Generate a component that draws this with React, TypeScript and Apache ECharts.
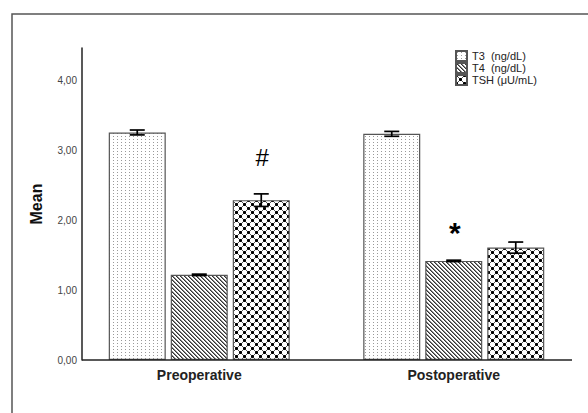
import React, { useEffect, useRef } from "react";
import * as echarts from "echarts";

// ---- data ----
const categories = ["Preoperative", "Postoperative"];
const seriesNames = ["T3  (ng/dL)", "T4  (ng/dL)", "TSH (μU/mL)"];
const t3Mean = [3.26, 3.24];
const t4Mean = [1.22, 1.42];
const tshMean = [2.29, 1.61];
const t3Err = [0.035, 0.035];
const t4Err = [0.01, 0.01];
const tshErr = [0.09, 0.08];
const t3Marks = ["", ""];
const t4Marks = ["", "*"];
const tshMarks = ["#", ""];
const yTickValues = [0, 1, 2, 3, 4];

// ---- layout / style constants ----
const BAR_W = 57;
const BAR_GAP = 5;
const CAP_W = 15;
const MARK_LIFT: Record<string, number> = { "#": 36, "*": 28 };
const FONT = "'Liberation Sans', Arial, sans-serif";

function makePattern(w: number, h: number, draw: (ctx: CanvasRenderingContext2D) => void) {
  const c = document.createElement("canvas");
  c.width = w;
  c.height = h;
  const ctx = c.getContext("2d")!;
  ctx.fillStyle = "#fff";
  ctx.fillRect(0, 0, w, h);
  draw(ctx);
  return {
    image: c.toDataURL(),
    imageWidth: w,
    imageHeight: h,
    repeat: "repeat",
  } as any;
}

export default function App() {
  const ref = useRef<HTMLDivElement>(null);

  useEffect(() => {
    if (!ref.current) return;
    const chart = echarts.init(ref.current, null, { renderer: "svg" });

    const dotPattern = makePattern(4, 3, (ctx) => {
      ctx.fillStyle = "#999";
      ctx.fillRect(1, 1, 1, 1);
    });
    const stripePattern = makePattern(4, 4, (ctx) => {
      for (let i = 0; i < 4; i++) {
        ctx.fillStyle = "#333";
        ctx.fillRect(i, i, 1, 1);
        ctx.fillStyle = "#888";
        ctx.fillRect((i + 1) % 4, i, 1, 1);
      }
    });
    const diamondPattern = makePattern(8, 8, (ctx) => {
      ctx.fillStyle = "#555";
      for (let i = 0; i < 8; i++) {
        ctx.fillRect(i, i, 1, 1);
        ctx.fillRect((8 - i) % 8, i, 1, 1);
      }
      const diamond = (cx: number, cy: number) => {
        const pts = [
          [0, 0], [1, 0], [-1, 0], [0, 1], [0, -1],
          [1, 1], [-1, -1], [1, -1], [-1, 1],
        ];
        pts.forEach(([dx, dy], k) => {
          ctx.fillStyle = k < 5 ? "#000" : "#222";
          ctx.fillRect((cx + dx + 8) % 8, (cy + dy + 8) % 8, 1, 1);
        });
      };
      diamond(0, 0);
      diamond(4, 4);
    });

    const patterns = [dotPattern, stripePattern, diamondPattern];
    const means = [t3Mean, t4Mean, tshMean];
    const errs = [t3Err, t4Err, tshErr];
    const marks = [t3Marks, t4Marks, tshMarks];
    const offsets = [-(BAR_W + BAR_GAP), 0, BAR_W + BAR_GAP];

    const barSeries = seriesNames.map((name, s) => ({
      name,
      type: "bar",
      barWidth: BAR_W,
      barGap: `${(BAR_GAP / BAR_W) * 100}%`,
      data: means[s],
      itemStyle: {
        color: patterns[s],
        borderColor: "#555",
        borderWidth: 1.2,
      },
      z: 2,
    }));

    const errSeries = seriesNames.map((name, s) => ({
      name: name + " err",
      type: "custom",
      data: categories.map((_, i) => [i, means[s][i], errs[s][i]]),
      encode: { x: 0, y: 1 },
      z: 5,
      silent: true,
      renderItem: (params: any, api: any) => {
        const ci = api.value(0);
        const m = api.value(1);
        const e = api.value(2);
        const x = api.coord([ci, 0])[0] + offsets[s];
        const yTop = api.coord([ci, m + e])[1];
        const yBot = api.coord([ci, m - e])[1];
        const st = { stroke: "#000", lineWidth: 1.7 };
        const children: any[] = [
          { type: "line", shape: { x1: x, y1: yTop, x2: x, y2: yBot }, style: st },
          { type: "line", shape: { x1: x - CAP_W / 2, y1: yTop, x2: x + CAP_W / 2, y2: yTop }, style: st },
          { type: "line", shape: { x1: x - CAP_W / 2, y1: yBot, x2: x + CAP_W / 2, y2: yBot }, style: st },
        ];
        const mk = marks[s][params.dataIndex];
        if (mk) {
          children.push({
            type: "text",
            style: {
              text: mk,
              x: x + 1,
              y: yTop - (MARK_LIFT[mk] || 30),
              align: "center",
              verticalAlign: "middle",
              fontSize: mk === "*" ? 30 : 24,
              fontWeight: mk === "*" ? "bold" : "normal",
              fontFamily: FONT,
              fill: "#000",
            },
          });
        }
        return { type: "group", children };
      },
    }));

    chart.setOption({
      animation: false,
      backgroundColor: "#fff",
      grid: { left: 72, right: 7, top: 48, bottom: 53, containLabel: false },
      legend: {
        data: seriesNames,
        orient: "vertical",
        left: 455,
        top: 50,
        padding: 0,
        itemWidth: 11,
        itemHeight: 10,
        itemGap: 0,
        icon: "rect",
        textStyle: { fontSize: 11, fontFamily: FONT, color: "#222", lineHeight: 11 },
      },
      xAxis: {
        type: "category",
        data: categories,
        axisLine: { show: false },
        axisTick: { show: false },
        axisLabel: {
          fontSize: 14,
          fontWeight: "bold",
          fontFamily: FONT,
          color: "#222",
          margin: 8,
        },
      },
      yAxis: {
        type: "value",
        min: 0,
        max: 4.47,
        interval: 1,
        offset: -10,
        name: "Mean",
        nameLocation: "middle",
        nameGap: 38,
        nameTextStyle: { fontSize: 16, fontWeight: "bold", fontFamily: FONT, color: "#111" },
        splitLine: { show: false },
        axisTick: { show: false },
        axisLine: { show: true, lineStyle: { color: "#222", width: 1.5 } },
        axisLabel: {
          fontSize: 10,
          fontFamily: FONT,
          color: "#444",
          margin: 5,
          formatter: (v: number) =>
            yTickValues.includes(v) ? v.toFixed(2).replace(".", ",") : "",
        },
      },
      graphic: [
        {
          type: "rect",
          shape: { x: 12, y: 14, width: 640, height: 460 },
          style: { fill: "none", stroke: "#555", lineWidth: 1.5 },
          silent: true,
          z: 100,
        },
        {
          type: "line",
          shape: { x1: 82, y1: 360, x2: 572, y2: 360 },
          style: { stroke: "#222", lineWidth: 1.6 },
          silent: true,
          z: 100,
        },
      ],
      series: [...barSeries, ...errSeries],
    });

    return () => chart.dispose();
  }, []);

  return (
    <div
      ref={ref}
      style={{ position: "fixed", left: 0, top: 0, width: 588, height: 413, background: "#fff" }}
    />
  );
}
